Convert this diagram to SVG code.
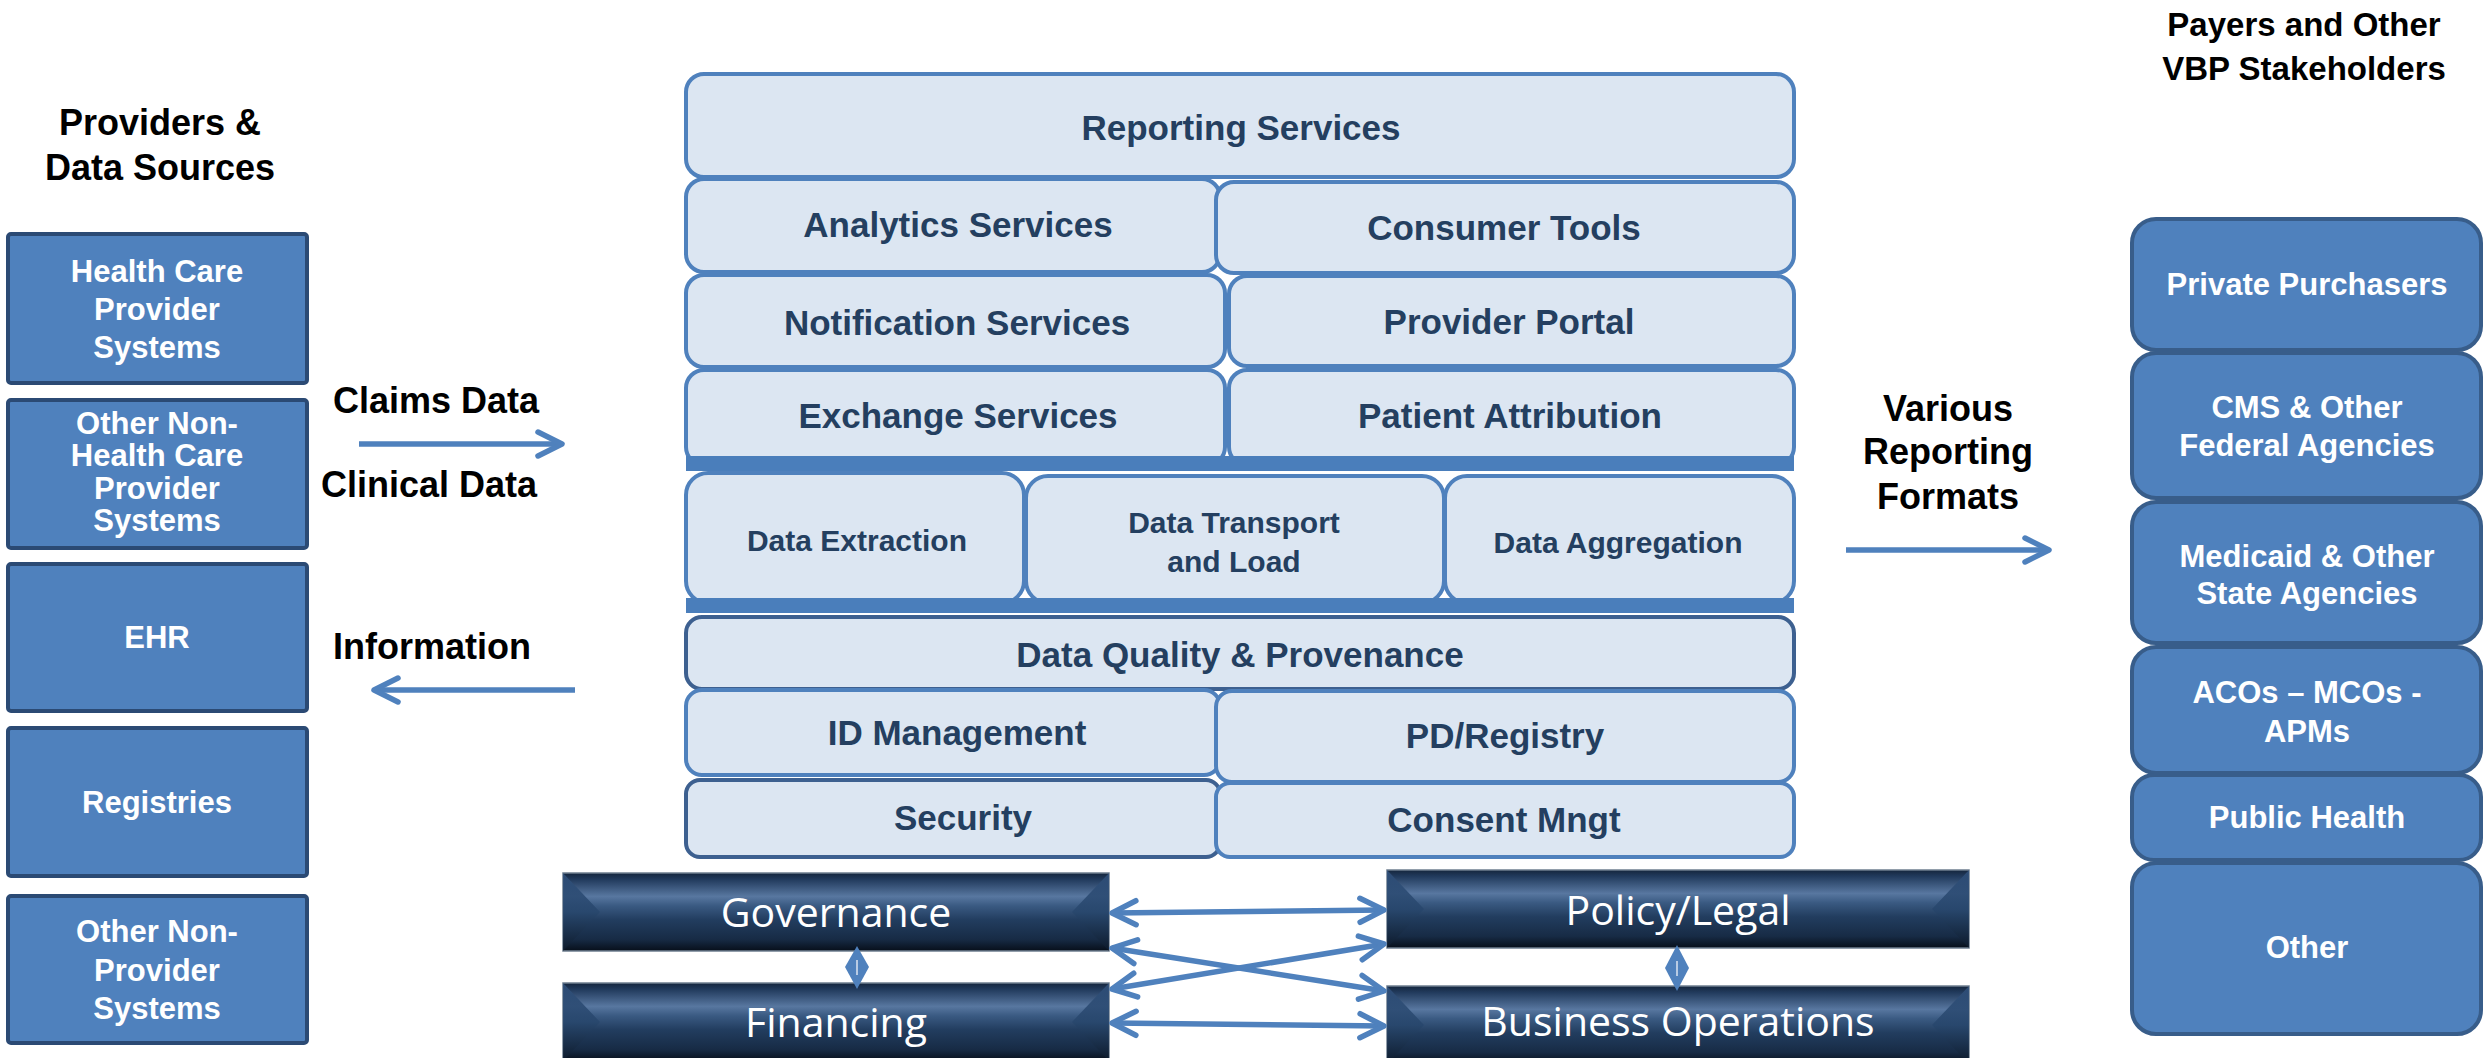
<svg xmlns="http://www.w3.org/2000/svg" width="2484" height="1058" viewBox="0 0 2484 1058">
<defs>
<style>
.hdr{font-family:"Liberation Sans",Arial,sans-serif;font-weight:bold;font-size:36px;fill:#000;text-anchor:middle}
.lbox{fill:#4f81bd;stroke:#2b4a74;stroke-width:4}
.rbox{fill:#4f81bd;stroke:#385d8a;stroke-width:4}
.wt{font-family:"Liberation Sans",Arial,sans-serif;font-weight:bold;font-size:31px;fill:#fff;text-anchor:middle}
.cbox{fill:#dce6f2;stroke:#4f81bd;stroke-width:4}
.cdk{fill:#dce6f2;stroke:#3d6090;stroke-width:4}
.ct{font-family:"Liberation Sans",Arial,sans-serif;font-weight:bold;font-size:35px;fill:#243f60;text-anchor:middle}
.cs{font-family:"Liberation Sans",Arial,sans-serif;font-weight:bold;font-size:30px;fill:#243f60;text-anchor:middle}
.bar{fill:#4a7ebb}
.btn{fill:url(#gbtn);stroke:#6f7f90;stroke-width:1.5}
.fac{fill:url(#gfac);opacity:0.9}
.bt{font-family:"Open Sans","Noto Sans",sans-serif;font-size:41px;fill:#fff;text-anchor:middle}
.arr{fill:none;stroke:#4f81bd;stroke-width:5.5;marker-end:url(#ah)}
.arr2{fill:none;stroke:#4f81bd;stroke-width:5.5;marker-start:url(#ah);marker-end:url(#ah)}
.dia{fill:#4f81bd}
</style>
<linearGradient id="gbtn" x1="0" y1="0" x2="0" y2="1">
<stop offset="0" stop-color="#15263d"/>
<stop offset="0.08" stop-color="#213a5c"/>
<stop offset="0.3" stop-color="#5877a0"/>
<stop offset="0.42" stop-color="#3a5a82"/>
<stop offset="0.6" stop-color="#223d5f"/>
<stop offset="0.85" stop-color="#172b45"/>
<stop offset="1" stop-color="#070f1a"/>
</linearGradient>
<linearGradient id="gfac" x1="0" y1="0" x2="0" y2="1">
<stop offset="0" stop-color="#30507a"/>
<stop offset="0.5" stop-color="#28476d"/>
<stop offset="1" stop-color="#0d1a2b"/>
</linearGradient>
<marker id="ah" markerUnits="userSpaceOnUse" viewBox="0 0 40 40" markerWidth="40" markerHeight="40" refX="32" refY="20" orient="auto-start-reverse">
<path d="M8,8 L32,20 L8,32" fill="none" stroke="#4f81bd" stroke-width="5.5" stroke-linecap="round" stroke-linejoin="round"/>
</marker>
</defs>
<rect width="2484" height="1058" fill="#fff"/>

<!-- headings -->
<g id="hdr-left">
<text class="hdr" x="160" y="135">Providers &amp;</text>
<text class="hdr" x="160" y="180">Data Sources</text>
</g>
<g id="hdr-right">
<text class="hdr" style="font-size:33px" x="2304" y="36">Payers and Other</text>
<text class="hdr" style="font-size:33px" x="2304" y="80">VBP Stakeholders</text>
</g>

<!-- left boxes -->
<g id="n-hcps">
<rect class="lbox" x="8" y="234" width="299" height="149" rx="3"/>
<text class="wt" x="157" y="282">Health Care</text>
<text class="wt" x="157" y="320">Provider</text>
<text class="wt" x="157" y="358">Systems</text>
</g>
<g id="n-nonhcps">
<rect class="lbox" x="8" y="400" width="299" height="148" rx="3"/>
<text class="wt" x="157" y="434">Other Non-</text>
<text class="wt" x="157" y="466">Health Care</text>
<text class="wt" x="157" y="499">Provider</text>
<text class="wt" x="157" y="531">Systems</text>
</g>
<g id="n-ehr">
<rect class="lbox" x="8" y="564" width="299" height="147" rx="3"/>
<text class="wt" x="157" y="648">EHR</text>
</g>
<g id="n-registries">
<rect class="lbox" x="8" y="728" width="299" height="148" rx="3"/>
<text class="wt" x="157" y="813">Registries</text>
</g>
<g id="n-nonprov">
<rect class="lbox" x="8" y="896" width="299" height="147" rx="3"/>
<text class="wt" x="157" y="942">Other Non-</text>
<text class="wt" x="157" y="981">Provider</text>
<text class="wt" x="157" y="1019">Systems</text>
</g>

<!-- flow labels -->
<g id="lbl-claims"><text class="hdr" x="436" y="413">Claims Data</text></g>
<g id="lbl-clinical"><text class="hdr" x="429" y="497">Clinical Data</text></g>
<g id="lbl-info"><text class="hdr" x="432" y="659">Information</text></g>
<g id="lbl-various">
<text class="hdr" x="1948" y="421">Various</text>
<text class="hdr" x="1948" y="464">Reporting</text>
<text class="hdr" x="1948" y="509">Formats</text>
</g>

<!-- center stack -->
<g id="n-reporting">
<rect class="cbox" x="686" y="74" width="1108" height="103" rx="18"/>
<text class="ct" x="1241" y="140">Reporting Services</text>
</g>
<g id="n-analytics">
<rect class="cbox" x="686" y="179" width="534" height="93" rx="18"/>
<text class="ct" x="958" y="237">Analytics Services</text>
</g>
<g id="n-consumer">
<rect class="cbox" x="1216" y="182" width="578" height="91" rx="18"/>
<text class="ct" x="1504" y="240">Consumer Tools</text>
</g>
<g id="n-notification">
<rect class="cbox" x="686" y="275" width="539" height="92" rx="18"/>
<text class="ct" x="957" y="335">Notification Services</text>
</g>
<g id="n-portal">
<rect class="cbox" x="1229" y="276" width="565" height="90" rx="18"/>
<text class="ct" x="1509" y="334">Provider Portal</text>
</g>
<g id="n-exchange">
<rect class="cbox" x="686" y="370" width="539" height="95" rx="18"/>
<text class="ct" x="958" y="428">Exchange Services</text>
</g>
<g id="n-attribution">
<rect class="cbox" x="1229" y="370" width="565" height="95" rx="18"/>
<text class="ct" x="1510" y="428">Patient Attribution</text>
</g>
<rect class="bar" x="686" y="456" width="1108" height="15"/>
<g id="n-extraction">
<rect class="cbox" x="686" y="473" width="338" height="130" rx="22"/>
<text class="cs" x="857" y="551">Data Extraction</text>
</g>
<g id="n-transport">
<rect class="cbox" x="1026" y="476" width="418" height="127" rx="22"/>
<text class="cs" x="1234" y="533">Data Transport</text>
<text class="cs" x="1234" y="572">and Load</text>
</g>
<g id="n-aggregation">
<rect class="cbox" x="1445" y="476" width="349" height="127" rx="22"/>
<text class="cs" x="1618" y="553">Data Aggregation</text>
</g>
<rect class="bar" x="686" y="598" width="1108" height="15"/>
<g id="n-quality">
<rect class="cdk" x="686" y="617" width="1108" height="72" rx="16"/>
<text class="ct" x="1240" y="667">Data Quality &amp; Provenance</text>
</g>
<g id="n-idmgmt">
<rect class="cbox" x="686" y="690" width="534" height="85" rx="16"/>
<text class="ct" x="957" y="745">ID Management</text>
</g>
<g id="n-pdregistry">
<rect class="cbox" x="1216" y="691" width="578" height="91" rx="16"/>
<text class="ct" x="1505" y="748">PD/Registry</text>
</g>
<g id="n-security">
<rect class="cdk" x="686" y="780" width="534" height="77" rx="14"/>
<text class="ct" x="963" y="830">Security</text>
</g>
<g id="n-consent">
<rect class="cbox" x="1216" y="783" width="578" height="74" rx="14"/>
<text class="ct" x="1504" y="832">Consent Mngt</text>
</g>

<!-- bottom buttons -->
<g id="n-governance">
<rect class="btn" x="563" y="873" width="546" height="78"/>
<polygon class="fac" points="563,873 600,912 563,951"/>
<polygon class="fac" points="1109,873 1072,912 1109,951"/>
<text class="bt" x="836" y="927">Governance</text>
</g>
<g id="n-financing">
<rect class="btn" x="563" y="983" width="546" height="78"/>
<polygon class="fac" points="563,983 600,1022 563,1061"/>
<polygon class="fac" points="1109,983 1072,1022 1109,1061"/>
<text class="bt" x="836" y="1037">Financing</text>
</g>
<g id="n-policy">
<rect class="btn" x="1387" y="870" width="582" height="78"/>
<polygon class="fac" points="1387,870 1424,909 1387,948"/>
<polygon class="fac" points="1969,870 1932,909 1969,948"/>
<text class="bt" x="1678" y="925">Policy/Legal</text>
</g>
<g id="n-busops">
<rect class="btn" x="1387" y="986" width="582" height="78"/>
<polygon class="fac" points="1387,986 1424,1025 1387,1064"/>
<polygon class="fac" points="1969,986 1932,1025 1969,1064"/>
<text class="bt" x="1678" y="1036">Business Operations</text>
</g>

<!-- right boxes -->
<g id="n-private">
<rect class="rbox" x="2132" y="219" width="349" height="131" rx="24"/>
<text class="wt" x="2307" y="295">Private Purchasers</text>
</g>
<g id="n-cms">
<rect class="rbox" x="2132" y="353" width="349" height="145" rx="24"/>
<text class="wt" x="2307" y="418">CMS &amp; Other</text>
<text class="wt" x="2307" y="456">Federal Agencies</text>
</g>
<g id="n-medicaid">
<rect class="rbox" x="2132" y="502" width="349" height="141" rx="24"/>
<text class="wt" x="2307" y="567">Medicaid &amp; Other</text>
<text class="wt" x="2307" y="604">State Agencies</text>
</g>
<g id="n-acos">
<rect class="rbox" x="2132" y="647" width="349" height="126" rx="24"/>
<text class="wt" x="2307" y="703">ACOs – MCOs -</text>
<text class="wt" x="2307" y="742">APMs</text>
</g>
<g id="n-publichealth">
<rect class="rbox" x="2132" y="775" width="349" height="85" rx="22"/>
<text class="wt" x="2307" y="828">Public Health</text>
</g>
<g id="n-other">
<rect class="rbox" x="2132" y="863" width="349" height="171" rx="24"/>
<text class="wt" x="2307" y="958">Other</text>
</g>

<!-- connectors -->
<g id="connectors">
<line class="arr" x1="359" y1="444" x2="562" y2="444"/>
<line class="arr" x1="575" y1="690" x2="374" y2="690"/>
<line class="arr" x1="1846" y1="550" x2="2049" y2="550"/>
<line class="arr2" x1="1112" y1="913" x2="1384" y2="910"/>
<line class="arr2" x1="1112" y1="948" x2="1384" y2="991"/>
<line class="arr2" x1="1112" y1="989" x2="1384" y2="944"/>
<line class="arr2" x1="1112" y1="1023" x2="1384" y2="1026"/>
<polygon class="dia" points="857,946 869,967 857,989 845,967"/>
<line x1="857" y1="960" x2="857" y2="975" stroke="#b8cbe4" stroke-width="2"/>
<polygon class="dia" points="1677,945 1689,968 1677,991 1665,968"/>
<line x1="1677" y1="961" x2="1677" y2="976" stroke="#b8cbe4" stroke-width="2"/>
</g>
</svg>
